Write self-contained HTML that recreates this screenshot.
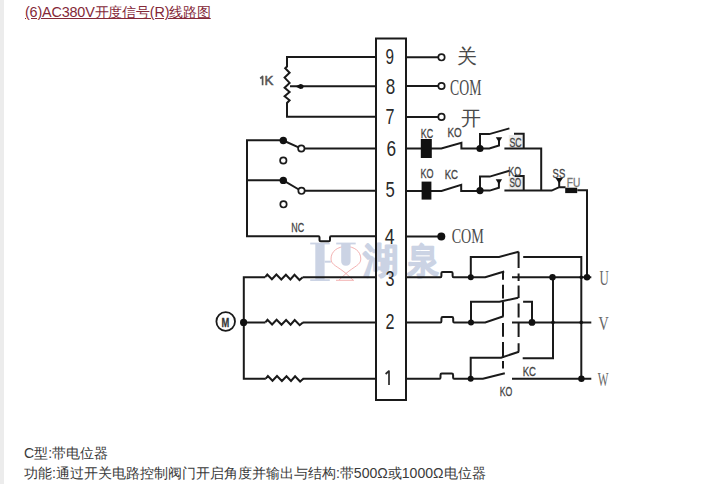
<!DOCTYPE html>
<html><head><meta charset="utf-8">
<style>
html,body{margin:0;padding:0;background:#fff;width:715px;height:484px;overflow:hidden;position:relative;font-family:"Liberation Sans",sans-serif;}
#bar{position:absolute;left:0;top:0;width:4px;height:484px;background:#ececec;}
#title{position:absolute;left:25px;top:2.3px;font-size:14.4px;letter-spacing:-0.18px;line-height:20px;color:#842838;text-decoration:underline;white-space:nowrap;}
.txt{position:absolute;left:24px;margin-top:-1px;font-size:14.07px;line-height:20px;color:#3a3a3a;white-space:nowrap;}
svg{position:absolute;left:0;top:0;}
</style></head><body>
<div id="bar"></div>
<div id="title">(6)AC380V开度信号(R)线路图</div>
<svg width="715" height="484" viewBox="0 0 715 484">
<!-- watermark -->
<rect x="508.8" y="135" width="14.2" height="12.6" fill="#ececec"/><rect x="508.8" y="177" width="14.2" height="12.6" fill="#ececec"/>
<g fill="none" stroke="#f2a9a9" stroke-width="0.9">
<path d="M339 280 L346 273.5 C 354 266.5, 360.8 265, 360.8 259 C 360.8 251, 354 246.5, 346 246.5 C 338 246.5, 331 251, 331 259 C 331 265, 338 266.5, 346 273.5 L353 280"/>
<path d="M336 280.3H354"/>
</g>
<g fill="#cbd3e4">
<rect x="315.3" y="243" width="9.3" height="37.5"/>
<rect x="310.2" y="242.6" width="19.6" height="1.8"/>
<rect x="310.2" y="279.2" width="19.6" height="1.8"/>
<rect x="324.6" y="260.7" width="6.2" height="2"/>
<path d="M341.2 243 H350.6 V261 Q350.6 265.8 345.9 265.8 Q341.2 265.8 341.2 261 Z"/>
<rect x="336.2" y="242.6" width="19.5" height="1.8"/>
<g stroke="#cbd3e4" stroke-width="2.4" stroke-linejoin="round" font-size="36"><text x="363" y="273.2" textLength="35.5" lengthAdjust="spacingAndGlyphs">湖</text><text x="407.2" y="273.2" textLength="32.3" lengthAdjust="spacingAndGlyphs">泉</text></g>
</g>


<g fill="none" stroke="#1a1a1a" stroke-width="2" stroke-linejoin="miter" stroke-linecap="butt">
<!-- terminal box -->
<rect x="376" y="38.5" width="30" height="361.5"/>
<!-- potentiometer -->
<path d="M376 57H287V66.5 L285.2 68.3 L289.6 72.7 L284.6 77.6 L289.6 82.9 L284.6 87.8 L289.6 92 L284.6 96.2 L289.6 100.3 L287 103V116.7H376"/>
<path d="M290 86.3H376"/>
<!-- left switches -->
<path d="M247 180.2H283"/>
<path d="M283.3 140.5L298.6 147.4 M304.3 148.4H376"/>
<path d="M283.3 180.4L298.8 189.5 M304.5 190.8H376"/>
<!-- row 4 left with notch -->
<path d="M283 140.3H247V236.2H318.5 Q319.5 236.2 319.5 237.5 V240.2 Q319.5 241.3 320.8 241.3 H328.8 Q330 241.3 330 240.2 V237.5 Q330 236.2 331 236.2 H376"/>
<!-- motor rows -->
<path d="M265.2 277.2H243.8V378.7H265.8 M302.7 277.2H376 M243.8 322.4H265.4 M302.7 322.4H376 M302.7 378.7H376"/>
<path d="M265.2 277.2 L267.3 274.5 L271.9 279.3 L276.4 274.5 L281.3 279.5 L285.9 274.8 L290.4 279.5 L294.5 274.8 L299.5 280 L302.7 277.2"/>
<path d="M265.4 322.4 L267.5 319.7 L272.1 324.5 L276.6 319.7 L281.5 324.7 L286.1 320 L290.6 324.7 L294.7 320 L299.7 325.2 L302.9 322.4"/>
<path d="M265.8 378.7 L267.9 376 L272.5 380.8 L277 376 L281.9 381 L286.5 376.3 L291 381 L295.1 376.3 L300.1 381.5 L303.3 378.7"/>
<circle cx="225.7" cy="321.5" r="9.3" stroke-width="1.8"/>
<!-- right top terminals -->
<path d="M406 57.3H438.4 M406 86H438.4 M406 116.9H438.4"/>
<path d="M406 236.5H441"/>
<!-- row 6 -->
<path d="M406 148.4H441.3 L461.4 142.8 V148.4 H480 M480 148.5V134.1H489.3L509.4 128.4 M480 148.4H489.3L499 145.4V141 M504.4 148.5H541.2V190.5 M514 133.8H523.7V148.5"/>
<!-- row 5 -->
<path d="M406 190.9H441.5 L461.2 184.8 V190.9 H480 M480 190.6V176.6H489.7L509.4 170.7 M480 190.6H489.7L498.9 187.7V182.6 M504.4 190.6H551.7 L559.3 187.2 M559.2 187.2V181.5 M559.3 187.2 H565.5 M577.3 190.2H587V277.2 M514.5 175.9H523.7V190.6"/>
<!-- row 3 -->
<path d="M406 277.2H440.5 Q441.4 277.2 441.4 276 V273.2 Q441.4 271.9 442.7 271.9 H451.3 Q452.6 271.9 452.6 273.2 V276 Q452.6 277.2 453.6 277.2 H485.2 L504.2 271.5 M470.8 277.2V256.9H499.1L518.7 251.7"/>
<path d="M512 277.2H591.3 M523.2 257H581.3V378.7"/>
<!-- row 2 -->
<path d="M406 322.4H440.5 Q441.4 322.4 441.4 321.2 V318.4 Q441.4 317.1 442.7 317.1 H452 Q453.2 317.1 453.2 318.4 V321.2 Q453.2 322.4 454.2 322.4 H485.2 L503.5 316.3 M471 322.4V301.7H499.4L518.2 297.8"/>
<path d="M512 322.4H591.3 M523.1 301.7H532V322.4"/>
<!-- row 1 -->
<path d="M406 378.7H439.6 Q440.5 378.7 440.5 377.5 V374.9 Q440.5 373.6 441.8 373.6 H451.8 Q453.1 373.6 453.1 374.9 V377.5 Q453.1 378.7 454.1 378.7 H482.9 L504.8 373.3 M470.7 378.7V357.7H501L519 351.8"/>
<path d="M512 378.7H591.3 M522.7 358.2H553V277.2"/>
<!-- dashed links -->
<path d="M503 271.5V279.7 M503 284.7V298.5 M503 302V316.5 M503 323V336.7 M503 342V357.7 M503 361V368.5" stroke-width="2"/>
<path d="M518.6 251.7V268 M518.6 273.5V281 M518.6 285.5V298 M518.6 303.5V317.5 M518.6 323V337 M518.6 343.2V351.8" stroke-width="2"/>
</g>
<!-- open circles -->
<g fill="#fff" stroke="#1a1a1a" stroke-width="1.7">
<circle cx="441.5" cy="57.3" r="3.2"/>
<circle cx="441.5" cy="86" r="3.2"/>
<circle cx="441.5" cy="116.9" r="3.2"/>
<circle cx="301.3" cy="148.5" r="3.2"/>
<circle cx="283.3" cy="160.5" r="3.2"/>
<circle cx="301.5" cy="190.8" r="3.2"/>
<circle cx="283.5" cy="204.3" r="3.2"/>
</g>
<!-- filled dots & blocks -->
<g fill="#111">
<circle cx="283.3" cy="140.5" r="3.7"/>
<circle cx="283.3" cy="180.4" r="3.7"/>
<circle cx="243.6" cy="322.4" r="3.6"/>
<circle cx="441.3" cy="236.5" r="4"/>
<circle cx="480" cy="148.5" r="3.6"/>
<circle cx="480" cy="190.6" r="3.6"/>
<circle cx="470.8" cy="277.2" r="3"/>
<circle cx="471" cy="322.4" r="3"/>
<circle cx="470.7" cy="378.7" r="3"/>
<circle cx="552.5" cy="277.2" r="3.2"/>
<circle cx="587" cy="277.2" r="3.2"/>
<circle cx="532" cy="322.4" r="3.4"/>
<circle cx="581.4" cy="378.7" r="3.2"/>
<circle cx="581.2" cy="277.2" r="1.8"/>
<circle cx="553" cy="322.4" r="1.8"/>
<circle cx="581.2" cy="322.4" r="1.8"/>
<rect x="420.8" y="139" width="11" height="19"/>
<rect x="421.6" y="181.6" width="9.8" height="18"/>
<rect x="565.2" y="187.7" width="12" height="5.4"/>
<path d="M295.5 86.4 L300.3 83.9 Q303.6 83.9 303.6 86.4 Q303.6 88.9 300.3 88.9 Z"/>
<path d="M495.8 137.2H502.2L499 142.6Z"/>
<path d="M495.7 179.2H502.1L498.9 184.4Z"/>
<path d="M555.5 177.9H562.9L559.2 183.4Z"/>
</g>
<!-- digits in box -->
<g fill="#2a2a2a" font-family="Liberation Sans" font-size="21.3">
<text x="385.5" y="63.5" textLength="8.5" lengthAdjust="spacingAndGlyphs">9</text>
<text x="385.8" y="93.9" textLength="9.5" lengthAdjust="spacingAndGlyphs">8</text>
<text x="385.5" y="124.1" textLength="9" lengthAdjust="spacingAndGlyphs">7</text>
<text x="386.4" y="156.3" textLength="9.6" lengthAdjust="spacingAndGlyphs">6</text>
<text x="385.4" y="197.3" textLength="9.3" lengthAdjust="spacingAndGlyphs">5</text>
<text x="384.8" y="243.6" textLength="9.8" lengthAdjust="spacingAndGlyphs">4</text>
<text x="385.4" y="286" textLength="9" lengthAdjust="spacingAndGlyphs">3</text>
<text x="385.4" y="329.1" textLength="9" lengthAdjust="spacingAndGlyphs">2</text>
<path d="M389 385.1V371 L385.6 374" fill="none" stroke="#2a2a2a" stroke-width="1.7" stroke-linejoin="round"/>
</g>
<!-- small sans labels -->
<g fill="#444" stroke="#444" stroke-width="0.3" font-family="Liberation Sans" font-size="12.5">
<text x="264.4" y="85.2" font-size="13.5" fill="#555" stroke="#555" stroke-width="0.55" textLength="8.9" lengthAdjust="spacingAndGlyphs">K</text><path d="M262.6 85.2V76.4 L260.2 78.5" fill="none" stroke="#555" stroke-width="1.7" stroke-linejoin="round"/>
<text x="291.3" y="231.5" textLength="12.9" lengthAdjust="spacingAndGlyphs">NC</text>
<text x="420.7" y="137.8" textLength="12.4" lengthAdjust="spacingAndGlyphs">KC</text>
<text x="447.4" y="137.2" textLength="14.2" lengthAdjust="spacingAndGlyphs">KO</text>
<text x="509.4" y="146.8" textLength="12.2" lengthAdjust="spacingAndGlyphs">SC</text>
<text x="420.5" y="177.9" textLength="13" lengthAdjust="spacingAndGlyphs">KO</text>
<text x="444.7" y="178.5" textLength="13.4" lengthAdjust="spacingAndGlyphs">KC</text>
<text x="508.2" y="175.5" textLength="13" lengthAdjust="spacingAndGlyphs">KO</text>
<text x="509.4" y="186.8" textLength="11.8" lengthAdjust="spacingAndGlyphs">SO</text>
<text x="552.6" y="177.6" textLength="12.6" lengthAdjust="spacingAndGlyphs">SS</text>
<text x="566.8" y="186.8" fill="#777" stroke="#777" textLength="13.5" lengthAdjust="spacingAndGlyphs">FU</text>
<text x="522.7" y="375.6" textLength="13.3" lengthAdjust="spacingAndGlyphs">KC</text>
<text x="499.7" y="396.3" textLength="12.6" lengthAdjust="spacingAndGlyphs">KO</text>
<text x="221.4" y="326.7" font-size="13.5" font-weight="bold" fill="#333" textLength="7.8" lengthAdjust="spacingAndGlyphs">M</text>
</g>
<!-- serif labels -->
<g fill="#4a4a4a" font-family="Liberation Serif" font-size="22">
<text x="450.1" y="94.5" font-size="23.5" textLength="31.3" lengthAdjust="spacingAndGlyphs">COM</text>
<text x="451.7" y="243.1" font-size="21.5" textLength="32.2" lengthAdjust="spacingAndGlyphs">COM</text>
<text x="599.5" y="285" font-size="20" fill="#666" textLength="9.3" lengthAdjust="spacingAndGlyphs">U</text>
<text x="598.6" y="329.7" font-size="19" fill="#666" textLength="10.2" lengthAdjust="spacingAndGlyphs">V</text>
<text x="597.7" y="386.1" font-size="19" fill="#666" textLength="10.7" lengthAdjust="spacingAndGlyphs">W</text>
<text x="456.7" y="63" font-size="20">关</text>
<text x="461" y="124.7" font-size="20">开</text>
</g>
</svg>
<div class="txt" style="top:444px">C型:带电位器</div>
<div class="txt" style="top:464px">功能:通过开关电路控制阀门开启角度并输出与结构:带500Ω或1000Ω电位器</div>
</body></html>
